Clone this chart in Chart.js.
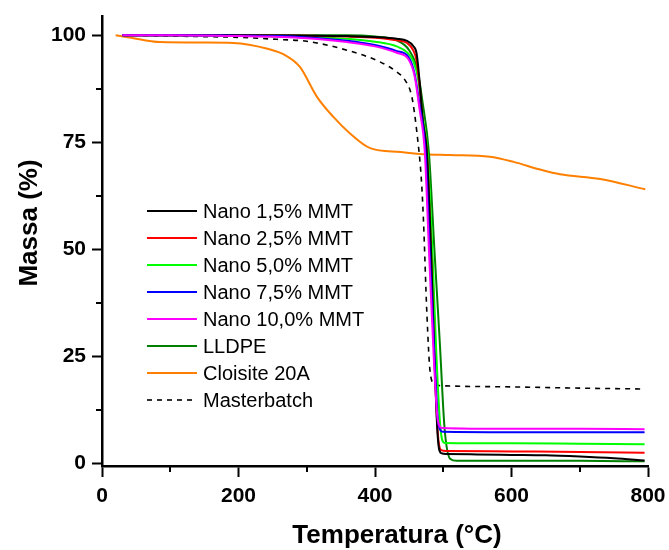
<!DOCTYPE html>
<html>
<head>
<meta charset="utf-8">
<script src="https://cdn.jsdelivr.net/npm/chart.js@4.4.1/dist/chart.umd.min.js"></script>
<style>
  html, body { margin: 0; padding: 0; background: #fff; }
  #wrap { width: 669px; height: 550px; }
</style>
</head>
<body>
<div id="wrap"><canvas id="tga"></canvas></div>
<script>
// --- data (temperature in C, mass in %) ---
const xTicks = [0, 200, 400, 600, 800];
const yTicks = [0, 25, 50, 75, 100];

const nano15T = [30, 100, 200, 300, 360, 400, 432, 447, 456, 461, 466, 470, 476, 482, 487, 492, 497, 505, 550, 600, 650, 700, 750, 795];
const nano15M = [100, 100, 100, 99.9, 99.8, 99.6, 99.2, 98.7, 97.5, 95.7, 88, 80, 72.5, 50, 25, 6, 2.3, 2.1, 2.0, 1.9, 1.8, 1.5, 1.1, 0.6];

const nano25T = [30, 100, 200, 300, 360, 400, 432, 447, 456, 461, 466, 470, 476, 482, 487, 492, 497, 505, 600, 700, 795];
const nano25M = [100, 100, 100, 99.9, 99.7, 99.4, 98.8, 98.2, 96.5, 94, 87, 80, 72.5, 50, 25, 7, 3.0, 2.8, 2.7, 2.6, 2.4];

const nano50T = [30, 100, 200, 300, 359, 400, 432, 447, 456, 463, 470, 477, 484, 490, 496, 502, 600, 700, 795];
const nano50M = [100, 100, 99.9, 99.6, 99.2, 98.5, 97.4, 96, 94, 90, 81, 72.5, 50, 25, 8, 4.7, 4.6, 4.5, 4.4];

const nano75T = [30, 100, 200, 261, 300, 359, 400, 432, 449, 458, 465, 474, 480, 487, 493, 500, 600, 700, 795];
const nano75M = [100, 100, 99.9, 99.8, 99.5, 98.7, 97.7, 96.3, 94.9, 91, 84, 72.6, 50, 25, 9, 7.3, 7.2, 7.2, 7.2];

const nano100T = [30, 100, 200, 261, 300, 359, 400, 432, 449, 458, 465, 473, 479, 486, 492, 498, 600, 700, 795];
const nano100M = [100, 100, 99.8, 99.6, 99.3, 98.4, 97.4, 95.9, 94.4, 90.5, 83, 72.6, 50, 25, 10, 8.2, 8.0, 8.0, 7.9];

const lldpeT = [30, 100, 200, 300, 359, 400, 432, 450, 462, 470, 479, 487, 495, 502, 510, 520, 600, 700, 795];
const lldpeM = [100, 100, 100, 100, 100, 99.7, 98.8, 96.5, 92, 84, 72.5, 50, 28, 8, 1, 0.5, 0.5, 0.5, 0.4];

const cloisiteT = [20, 40, 85, 150, 192, 241, 270, 290, 315, 339, 363, 393, 437, 471, 510, 568, 603, 642, 671, 730, 796];
const cloisiteM = [100, 99.5, 98.4, 98.3, 98.2, 96.9, 95.2, 92.6, 85.6, 80.9, 77.1, 73.6, 72.7, 72.2, 72.0, 71.6, 70.4, 68.6, 67.5, 66.4, 64.0];

const masterT = [31, 100, 200, 261, 300, 359, 407, 432, 444, 454, 461, 468, 471, 476, 481, 488, 495, 600, 700, 795];
const masterM = [100, 99.8, 99.5, 99.0, 98.6, 96.5, 93.8, 91.4, 89.5, 85.6, 77.8, 66.1, 56.8, 35, 21, 18.3, 18.1, 17.8, 17.5, 17.3];

const seriesNames = ['Nano 1,5% MMT', 'Nano 2,5% MMT', 'Nano 5,0% MMT', 'Nano 7,5% MMT', 'Nano 10,0% MMT', 'LLDPE', 'Cloisite 20A', 'Masterbatch'];
const seriesColors = ['#000000', '#ff0000', '#00ff00', '#0000ff', '#ff00ff', '#008000', '#ff8000', '#000000'];

function pts(t, m) {
    return t.map((v, i) => ({ x: v, y: m[i] }));
}

const allSeries = [
    pts(nano15T, nano15M), pts(nano25T, nano25M), pts(nano50T, nano50M), pts(nano75T, nano75M),
    pts(nano100T, nano100M), pts(lldpeT, lldpeM), pts(cloisiteT, cloisiteM), pts(masterT, masterM)
];

// draw order: Cloisite and masterbatch first, coloured composites on top
const drawOrder = [6, 7, 5, 2, 1, 0, 3, 4];

const datasets = seriesNames.map((name, i) => ({
    label: name,
    data: allSeries[i],
    borderColor: seriesColors[i],
    backgroundColor: seriesColors[i],
    borderWidth: i === 7 ? 1.6 : 2,
    borderDash: i === 7 ? [5, 5] : [],
    pointRadius: 0,
    cubicInterpolationMode: 'monotone',
    order: drawOrder.length - drawOrder.indexOf(i)
}));

const FONT = '"Liberation Sans", Arial, sans-serif';

// minor ticks, axis titles and in-plot legend
const extrasPlugin = {
    id: 'extras',
    afterDraw(chart) {
        const ctx = chart.ctx;
        const xs = chart.scales.x, ys = chart.scales.y;
        ctx.save();
        ctx.strokeStyle = '#000';
        ctx.lineWidth = 2;
        [100, 300, 500, 700].forEach(v => {
            const px = Math.round(xs.getPixelForValue(v));
            ctx.beginPath();
            ctx.moveTo(px, xs.top);
            ctx.lineTo(px, xs.top + 6);
            ctx.stroke();
        });
        [12.5, 37.5, 62.5, 87.5].forEach(v => {
            const py = Math.round(ys.getPixelForValue(v));
            ctx.beginPath();
            ctx.moveTo(ys.right, py);
            ctx.lineTo(ys.right - 6, py);
            ctx.stroke();
        });

        // axis titles (sit a bit off-centre in the original)
        ctx.fillStyle = '#000';
        ctx.font = 'bold 26px ' + FONT;
        ctx.textAlign = 'center';
        ctx.textBaseline = 'middle';
        ctx.fillText('Temperatura (°C)', 397, 536);
        ctx.save();
        ctx.translate(30, 223);
        ctx.rotate(-Math.PI / 2);
        ctx.fillText('Massa (%)', 0, 0);
        ctx.restore();

        // legend
        const lx = 147, ly = 211, rowH = 27;
        ctx.font = '20px ' + FONT;
        ctx.textBaseline = 'middle';
        ctx.textAlign = 'left';
        chart.data.datasets.forEach((ds, i) => {
            const y = ly + i * rowH;
            ctx.strokeStyle = ds.borderColor;
            ctx.lineWidth = ds.borderWidth;
            ctx.setLineDash(ds.borderDash);
            ctx.beginPath();
            ctx.moveTo(lx, y);
            ctx.lineTo(lx + 50, y);
            ctx.stroke();
            ctx.setLineDash([]);
            ctx.fillStyle = '#000';
            ctx.fillText(ds.label, lx + 56, y + 1);
        });
        ctx.restore();
    }
};

const tickFont = { family: FONT, size: 21, weight: 'bold' };

new Chart(document.getElementById('tga'), {
    type: 'line',
    data: { datasets },
    plugins: [extrasPlugin],
    options: {
        responsive: true,
        maintainAspectRatio: false,
        animation: false,
        layout: { padding: { left: 0, top: 16, right: 21, bottom: 0 } },
        plugins: { legend: { display: false }, tooltip: { enabled: false } },
        scales: {
            x: {
                type: 'linear',
                min: 0,
                max: 800,
                afterFit: s => { s.height = 84; s.paddingLeft = 0; s.paddingRight = 0; },
                afterBuildTicks: s => { s.ticks = xTicks.map(v => ({ value: v })); },
                grid: { drawOnChartArea: false, tickLength: 11, tickWidth: 2, tickColor: '#000' },
                border: { display: true, width: 2.5, color: '#000' },
                ticks: { color: '#000', font: tickFont, padding: 7, maxRotation: 0 },
                title: { display: false }
            },
            y: {
                type: 'linear',
                min: -0.7,
                max: 104.5,
                afterFit: s => { s.width = 102; s.paddingTop = 0; s.paddingBottom = 0; },
                afterBuildTicks: s => { s.ticks = yTicks.map(v => ({ value: v })); },
                grid: { drawOnChartArea: false, tickLength: 10, tickWidth: 2, tickColor: '#000' },
                border: { display: true, width: 2.5, color: '#000' },
                ticks: { color: '#000', font: tickFont, padding: 6 },
                title: { display: false }
            }
        }
    }
});
</script>
</body>
</html>
